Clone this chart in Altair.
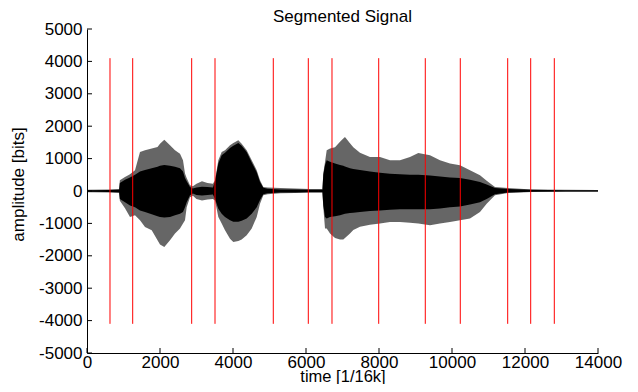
import altair as alt
import pandas as pd

# ---- data ----
time = [0, 600, 880, 900, 1041, 1178, 1315, 1452, 1589, 1773, 1932, 2000, 2118, 2274, 2411, 2548,
        2630, 2685, 2731, 2822, 2900, 3000, 3150, 3300, 3450, 3507, 3598, 3690, 3781, 3918, 4009,
        4146, 4238, 4375, 4513, 4650, 4740, 4831, 4950, 5300, 5700, 6100, 6450, 6474, 6521, 6567,
        6658, 6795, 6932, 7022, 7068, 7205, 7296, 7479, 7753, 8027, 8301, 8575, 8849, 9077, 9397,
        9671, 9945, 10219, 10493, 10767, 10950, 11178, 11534, 12192, 13096, 14000]
peak_hi = [40, 50, 60, 330, 430, 515, 640, 1200, 1255, 1310, 1360, 1460, 1585, 1410, 1255, 1150,
           950, 540, 400, 180, 150, 220, 300, 250, 220, 330, 950, 1200, 1255, 1410, 1480,
           1565, 1460, 1255, 950, 640, 330, 125, 110, 90, 80, 60, 60, 550, 895, 1256,
           1308, 1350, 1520, 1617, 1667, 1470, 1350, 1180, 1050, 1050, 950, 950, 1050, 1173, 1102,
           948, 845, 793, 640, 485, 320, 125, 93, 50, 35, 30]
peak_lo = [-40, -50, -60, -300, -530, -800, -750, -900, -1110, -1210, -1520, -1650, -1730, -1520, -1315, -1160,
           -1005, -900, -500, -190, -150, -250, -290, -260, -250, -290, -800, -1005, -1213, -1470, -1575,
           -1540, -1500, -1367, -1160, -800, -390, -130, -100, -70, -60, -50, -50, -500, -1160, -1160,
           -1315, -1450, -1500, -1500, -1450, -1315, -1200, -1100, -1040, -1000, -955, -955, -980, -1006, -1058,
           -1006, -955, -904, -852, -647, -390, -133, -62, -30, -25, -25]
core_hi = [25, 30, 35, 250, 350, 420, 500, 600, 650, 700, 750, 780, 800, 780, 750, 700,
           600, 400, 300, 120, 80, 110, 130, 120, 110, 300, 850, 1100, 1180, 1330, 1400,
           1480, 1400, 1200, 880, 580, 280, 100, 70, 50, 45, 35, 35, 500, 800, 950,
           900, 850, 800, 780, 760, 700, 680, 650, 600, 560, 530, 520, 500, 500, 480,
           450, 420, 400, 350, 280, 200, 90, 60, 35, 25, 20]
core_lo = [-25, -30, -35, -250, -350, -450, -500, -600, -650, -720, -780, -800, -820, -800, -750, -700,
           -650, -500, -350, -130, -80, -120, -140, -120, -110, -250, -550, -700, -800, -900, -950,
           -950, -920, -850, -700, -500, -280, -100, -70, -50, -45, -35, -35, -450, -800, -850,
           -800, -780, -750, -720, -700, -680, -670, -650, -620, -600, -580, -560, -560, -560, -560,
           -540, -500, -480, -420, -350, -250, -100, -45, -20, -15, -15]
bounds = [630, 1252, 2868, 3507, 5104, 6063, 6712, 7992, 9268, 10227, 11526, 12156, 12803]
line_top = 4100
line_bottom = -4100
x_ticks = [0, 2000, 4000, 6000, 8000, 10000, 12000, 14000]
y_ticks = [-5000, -4000, -3000, -2000, -1000, 0, 1000, 2000, 3000, 4000, 5000]

sig = pd.DataFrame({"t": time, "ph": peak_hi, "pl": peak_lo, "ch": core_hi, "cl": core_lo})
bdf = pd.DataFrame({"b": bounds})
xt = pd.DataFrame({"v": x_ticks})
yt = pd.DataFrame({"v": y_ticks})

FONT = "Liberation Sans"
FS = 17
xs = alt.Scale(domain=[0, 14000], nice=False, zero=False)
ys = alt.Scale(domain=[-5000, 5000], nice=False, zero=False)

xaxis = alt.Axis(values=x_ticks, tickSize=0, labelPadding=1, labelFont=FONT, labelFontSize=FS,
                 labelColor="black", domainColor="black", domainWidth=1, grid=False,
                 labelFlush=False, labelOverlap=False, labelExpr="'' + datum.value",
                 title="time [1/16k]", titleFont=FONT, titleFontSize=16.5, titleFontWeight="normal",
                 titleColor="black", titleY=28.5, titleBaseline="alphabetic")
yaxis = alt.Axis(values=y_ticks, tickSize=0, labelPadding=5, labelFont=FONT, labelFontSize=FS,
                 labelColor="black", domainColor="black", domainWidth=1, grid=False,
                 labelFlush=False, labelOverlap=False, labelExpr="'' + datum.value",
                 title="amplitude [bits]", titleFont=FONT, titleFontSize=FS, titleFontWeight="normal",
                 titleColor="black", titleX=-69, titleY=155, titleAngle=270, titleBaseline="middle",
                 titleAlign="center")

peak = alt.Chart(sig).mark_area(color="black", opacity=0.6, interpolate="linear").encode(
    x=alt.X("t:Q", scale=xs, axis=xaxis),
    y=alt.Y("ph:Q", scale=ys, axis=yaxis),
    y2="pl:Q",
)
core = alt.Chart(sig).mark_area(color="black", opacity=1, interpolate="linear").encode(
    x=alt.X("t:Q", scale=xs, axis=xaxis),
    y=alt.Y("ch:Q", scale=ys, axis=yaxis),
    y2="cl:Q",
)
rules = alt.Chart(bdf).mark_rule(color="#ff0000", strokeWidth=1).encode(
    x=alt.X("b:Q", scale=xs, axis=xaxis),
    y=alt.datum(line_top, scale=ys, axis=yaxis),
    y2=alt.datum(line_bottom),
)
xticks = alt.Chart(xt).mark_rule(color="black", strokeWidth=1).encode(
    x=alt.X("v:Q", scale=xs, axis=xaxis),
    y=alt.value(324),
    y2=alt.value(319),
)
yticks = alt.Chart(yt).mark_rule(color="black", strokeWidth=1).encode(
    y=alt.Y("v:Q", scale=ys, axis=yaxis),
    x=alt.value(0),
    x2=alt.value(5),
)

chart = alt.layer(peak, core, rules, xticks, yticks).properties(
    width=511,
    height=324,
    title=alt.TitleParams("Segmented Signal", font=FONT, fontSize=FS, fontWeight="normal",
                          color="black", anchor="middle", offset=4, dy=10),
    autosize=alt.AutoSizeParams(type="none"),
    padding={"left": 79, "top": 21, "right": 30, "bottom": 31},
).configure_view(stroke=None)

chart.save("out.html", embed_options={"renderer": "svg", "actions": False})
